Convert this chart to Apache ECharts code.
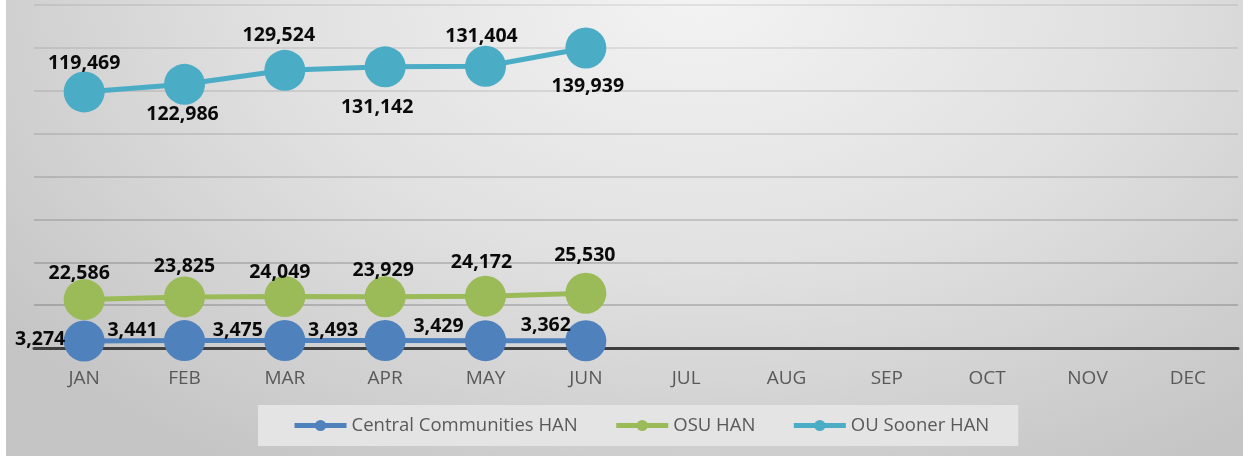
<!DOCTYPE html>
<html>
<head>
<meta charset="utf-8">
<script src="https://cdn.jsdelivr.net/npm/echarts@6/dist/echarts.min.js"></script>
<style>
  html, body { margin: 0; padding: 0; background: #ffffff; }
  #wrap { position: relative; width: 1243px; height: 457px; overflow: hidden; }
  #bg { position: absolute; left: 6px; top: 0; width: 1237px; height: 456px;
        background: radial-gradient(ellipse 70% 120% at 56% 0%, #f3f3f3 0%, #e0e0e0 50%, #c5c5c5 100%); }
  #chart { position: absolute; left: 0; top: 0; width: 1243px; height: 457px; }
</style>
</head>
<body>
<div id="wrap"><div id="bg"></div><div id="chart"></div></div>
<script>
// ---- data ----
const months = ['JAN', 'FEB', 'MAR', 'APR', 'MAY', 'JUN', 'JUL', 'AUG', 'SEP', 'OCT', 'NOV', 'DEC'];
const seriesNames = ['Central Communities HAN', 'OSU HAN', 'OU Sooner HAN'];
const centralValues = [3274, 3441, 3475, 3493, 3429, 3362];
const osuValues = [22586, 23825, 24049, 23929, 24172, 25530];
const ouValues = [119469, 122986, 129524, 131142, 131404, 139939];

// ---- label placement (pixel offsets from each marker centre) ----
const centralLabelOffsets = [[-44, -2], [-52, -10], [-47, -10], [-52, -10], [-47, -14], [-40, -15]];
const osuLabelOffsets = [[-5, -26], [0, -30], [-5, -24], [-2, -26], [-4, -34], [-1, -38]];
const ouLabelOffsets = [[0, -28], [-2, 30], [-6, -35], [-8, 41], [-4, -30], [2, 38]];

const colors = ['#4f81bd', '#9bbb59', '#4bacc6'];
const FONT = "'Open Sans', 'Noto Sans', sans-serif";

function buildData(values, offsets) {
  return values.map((v, i) => ({
    value: v,
    label: { position: 'inside', offset: offsets[i] }
  }));
}

function makeSeries(name, values, offsets, color) {
  return {
    name: name,
    type: 'line',
    data: buildData(values, offsets),
    symbol: 'circle',
    symbolSize: 41,
    color: color,
    lineStyle: { width: 5, color: color },
    itemStyle: { color: color },
    label: {
      show: true,
      formatter: p => Number(p.value).toLocaleString('en-US'),
      fontFamily: FONT,
      fontSize: 19.5,
      fontWeight: 'bold',
      color: '#0a0a0a'
    },
    emphasis: { disabled: true },
    animation: false
  };
}

const chart = echarts.init(document.getElementById('chart'), null, { renderer: 'canvas' });
chart.setOption({
  backgroundColor: 'transparent',
  animation: false,
  grid: { left: 34, right: 5, top: 5, bottom: 109, containLabel: false },
  legend: {
    data: seriesNames,
    left: 258,
    top: 405,
    padding: [11, 29, 11, 34],
    itemGap: 36,
    itemWidth: 52,
    itemHeight: 14,
    backgroundColor: '#e4e4e4',
    lineStyle: { width: 5 },
    textStyle: { fontFamily: FONT, fontSize: 18.5, color: '#595959' }
  },
  xAxis: {
    type: 'category',
    data: months,
    boundaryGap: true,
    axisLine: { show: true, lineStyle: { color: '#3f3f3f', width: 3 } },
    axisTick: { show: false },
    axisLabel: { margin: 21, fontFamily: FONT, fontSize: 19, color: '#595959' },
    splitLine: { show: false }
  },
  yAxis: {
    type: 'value',
    min: 0,
    max: 160000,
    interval: 20000,
    axisLine: { show: false },
    axisTick: { show: false },
    axisLabel: { show: false },
    splitLine: {
      show: true,
      lineStyle: {
        width: 2,
        color: ['rgba(0,0,0,0.2)', 'rgba(0,0,0,0.17)', 'rgba(0,0,0,0.16)', 'rgba(0,0,0,0.14)',
                'rgba(0,0,0,0.12)', 'rgba(0,0,0,0.1)', 'rgba(0,0,0,0.09)', 'rgba(0,0,0,0.08)', 'rgba(0,0,0,0.07)']
      }
    }
  },
  series: [
    makeSeries(seriesNames[0], centralValues, centralLabelOffsets, colors[0]),
    makeSeries(seriesNames[1], osuValues, osuLabelOffsets, colors[1]),
    makeSeries(seriesNames[2], ouValues, ouLabelOffsets, colors[2])
  ]
});
</script>
</body>
</html>
